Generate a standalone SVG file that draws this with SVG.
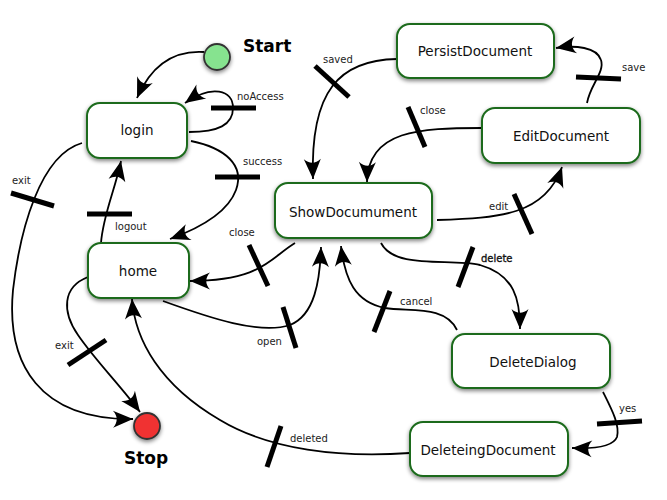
<svg xmlns="http://www.w3.org/2000/svg" width="667" height="500" viewBox="0 0 667 500">
<defs>
<filter id="sh" x="-20%" y="-20%" width="140%" height="150%">
<feGaussianBlur in="SourceAlpha" stdDeviation="2"/>
<feOffset dx="0" dy="2" result="b"/>
<feComponentTransfer><feFuncA type="linear" slope="0.5"/></feComponentTransfer>
<feMerge><feMergeNode/><feMergeNode in="SourceGraphic"/></feMerge>
</filter>
<marker id="ah" markerUnits="userSpaceOnUse" viewBox="-22 -10 23 20" refX="0" refY="0" markerWidth="23" markerHeight="20" orient="auto" overflow="visible">
<path d="M0,0 L-20,-8.5 C-15,-3 -15,3 -20,8.5 Z" fill="#000"/>
</marker>
</defs>
<style>
.box{fill:#fff;stroke:#1b6b1b;stroke-width:2}
.nl{font-family:"DejaVu Sans",sans-serif;font-size:13.5px;fill:#111;text-anchor:middle}
.el{font-family:"DejaVu Sans",sans-serif;font-size:10px;fill:#222}
.big{font-family:"DejaVu Sans",sans-serif;font-size:17px;font-weight:bold;fill:#000}
.c{fill:none;stroke:#000;stroke-width:1.8;marker-end:url(#ah)}
.bar{stroke:#000;stroke-width:5;fill:none}
</style>
<rect width="667" height="500" fill="#fff"/>
<g id="connectors">
<path class="c" d="M204,52 C172,50 150,68 137,98"/>
<path class="c" d="M189,132 C218,132 233,125 233,108 C233,90 212,84 185,103"/>
<path class="c" d="M191,141 C225,148 245,165 236,190 C228,212 200,228 170,239"/>
<path class="c" d="M101,243 C103,215 115,190 121,161"/>
<path class="c" d="M82,143 C40,155 20,230 13,290 C6,365 40,420 133,419"/>
<path class="c" d="M88,277 C62,287 62,312 78,335 C95,360 120,385 140,412"/>
<path class="c" d="M295,243 C270,258 262,281 190,281"/>
<path class="c" d="M163,301 C210,318 260,335 290,325 C315,315 320,280 321,247"/>
<path class="c" d="M397,59 C340,60 310,90 313,179"/>
<path class="c" d="M482,128 C420,128 368,130 367,182"/>
<path class="c" d="M587,103 C590,85 605,72 601,60 C597,47 575,45 556,48"/>
<path class="c" d="M437,220 C500,218 545,215 562,167"/>
<path class="c" d="M381,243 C395,270 450,258 480,265 C515,275 520,300 520,329"/>
<path class="c" d="M457,330 C445,305 410,312 385,308 C355,302 345,280 341,246"/>
<path class="c" d="M603,392 C612,410 620,425 617,437 C613,447 595,449 572,448"/>
<path class="c" d="M410,453 C340,458 270,450 220,420 C160,385 135,340 132,299"/>
<line class="bar" x1="211" y1="108" x2="256" y2="108"/>
<line class="bar" x1="215" y1="177" x2="260" y2="177"/>
<line class="bar" x1="11" y1="193" x2="54" y2="206"/>
<line class="bar" x1="87" y1="214" x2="132" y2="214"/>
<line class="bar" x1="249" y1="245" x2="268" y2="286"/>
<line class="bar" x1="315" y1="66" x2="349" y2="97"/>
<line class="bar" x1="408" y1="107" x2="425" y2="147"/>
<line class="bar" x1="576" y1="77" x2="621" y2="79"/>
<line class="bar" x1="514" y1="194" x2="532" y2="234"/>
<line class="bar" x1="473" y1="247" x2="458" y2="287"/>
<line class="bar" x1="390" y1="291" x2="374" y2="332"/>
<line class="bar" x1="283" y1="307" x2="296" y2="348"/>
<line class="bar" x1="597" y1="424" x2="642" y2="421"/>
<line class="bar" x1="281" y1="426" x2="267" y2="467"/>
<line class="bar" x1="106" y1="340" x2="68" y2="365"/>
<text class="el" x="237" y="100">noAccess</text>
<text class="el" x="243" y="165">success</text>
<text class="el" x="12" y="184">exit</text>
<text class="el" x="115" y="230">logout</text>
<text class="el" x="229" y="236">close</text>
<text class="el" x="323" y="63">saved</text>
<text class="el" x="420" y="114">close</text>
<text class="el" x="622" y="71">save</text>
<text class="el" x="489" y="210">edit</text>
<text class="el" x="481" y="262" stroke="#000" stroke-width="0.3">delete</text>
<text class="el" x="400" y="305">cancel</text>
<text class="el" x="619" y="412">yes</text>
<text class="el" x="290" y="442">deleted</text>
<text class="el" x="55" y="349">exit</text>
<text class="el" x="257" y="345">open</text>
</g>
<g id="start">
<circle cx="217" cy="57" r="13" fill="#86e38f" stroke="#333" stroke-width="1.8" filter="url(#sh)"/>
<text class="big" x="243" y="52">Start</text>
</g>
<g id="stop">
<circle cx="147" cy="426" r="13" fill="#f03030" stroke="#333" stroke-width="1.8" filter="url(#sh)"/>
<text class="big" x="146" y="464" text-anchor="middle">Stop</text>
</g>
<g id="login">
<rect class="box" x="87" y="103" width="100" height="55" rx="13" filter="url(#sh)"/>
<text class="nl" x="137" y="135">login</text>
</g>
<g id="home">
<rect class="box" x="88" y="243" width="101" height="55" rx="13" filter="url(#sh)"/>
<text class="nl" x="138" y="276">home</text>
</g>
<g id="ShowDocumument">
<rect class="box" x="275" y="183" width="157" height="55" rx="13" filter="url(#sh)"/>
<text class="nl" x="353" y="217">ShowDocumument</text>
</g>
<g id="PersistDocument">
<rect class="box" x="397" y="24" width="157" height="54" rx="13" filter="url(#sh)"/>
<text class="nl" x="475" y="56">PersistDocument</text>
</g>
<g id="EditDocument">
<rect class="box" x="482" y="108" width="158" height="55" rx="13" filter="url(#sh)"/>
<text class="nl" x="561" y="141">EditDocument</text>
</g>
<g id="DeleteDialog">
<rect class="box" x="452" y="334" width="158" height="54" rx="13" filter="url(#sh)"/>
<text class="nl" x="533" y="367">DeleteDialog</text>
</g>
<g id="DeleteingDocument">
<rect class="box" x="410" y="422" width="158" height="54" rx="13" filter="url(#sh)"/>
<text class="nl" x="488" y="455">DeleteingDocument</text>
</g>
</svg>
